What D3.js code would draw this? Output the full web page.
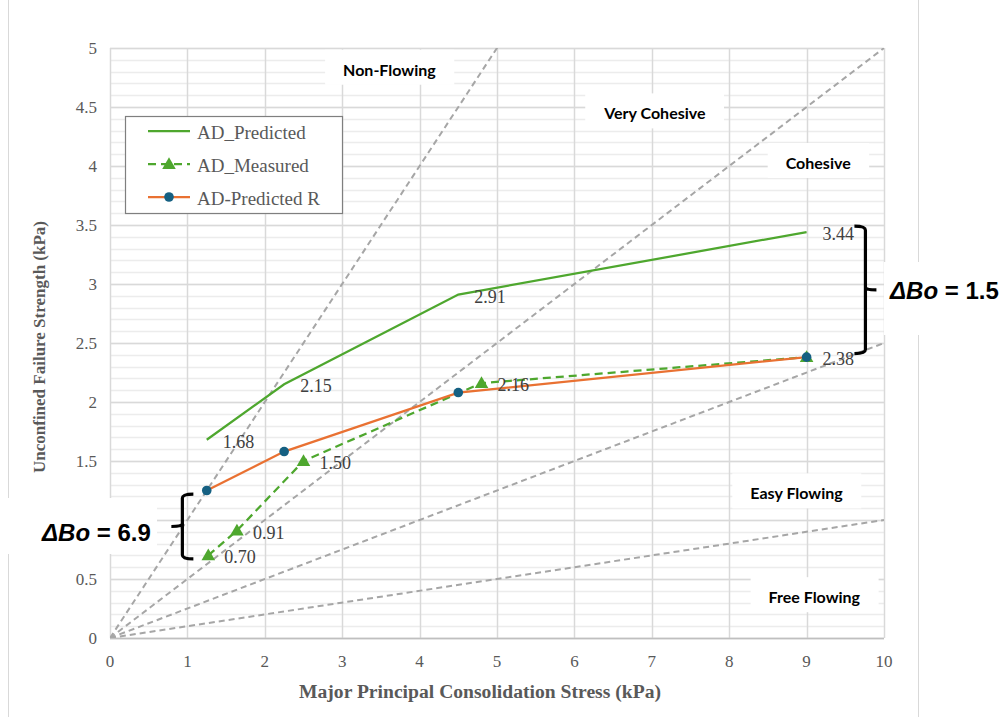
<!DOCTYPE html>
<html><head><meta charset="utf-8">
<script src="https://cdn.jsdelivr.net/npm/d3@7"></script>
<style>
body{margin:0;background:#fff;}
svg{display:block;}
</style></head><body>
<svg id="c" width="1005" height="717"></svg>
<script>
// ---- data ----
const xTicks = [0,1,2,3,4,5,6,7,8,9,10];
const yTicks = [0,0.5,1,1.5,2,2.5,3,3.5,4,4.5,5];
const yTickLabels = ["0","0.5","","1.5","2","2.5","3","3.5","4","4.5","5"]; // "1" is hidden behind the ΔBo note
const predX = [1.25, 2.25, 4.5, 9];
const predY = [1.68, 2.15, 2.91, 3.44];
const measX = [1.27, 1.64, 2.5, 4.8, 9];
const measY = [0.70, 0.91, 1.50, 2.16, 2.38];
const predRX = [1.25, 2.25, 4.5, 9];
const predRY = [1.25, 1.58, 2.08, 2.38];
const ffcSlopes = [1, 0.5, 0.25, 0.1];   // flow function boundaries ff=1,2,4,10
const regionNames = ["Non-Flowing","Very Cohesive","Cohesive","Easy Flowing","Free Flowing"];
const regionX = [3.61, 7.04, 9.15, 8.87, 9.1];
const regionY = [4.82, 4.45, 4.03, 1.23, 0.35];
const legendNames = ["AD_Predicted","AD_Measured","AD-Predicted R"];

const C_GREEN = "#4EA72E", C_ORANGE = "#E97132", C_BLUE = "#156082";
const SERIF = "'Liberation Serif', 'Times New Roman', serif";

const svg = d3.select("#c");
const x = d3.scaleLinear().domain([0,10]).range([110,884]);
const y = d3.scaleLinear().domain([0,5]).range([638,48]);

// chart border
svg.append("line").attr("x1",8.5).attr("x2",8.5).attr("y1",0).attr("y2",717).attr("stroke","#d9d9d9");
svg.append("line").attr("x1",918.5).attr("x2",918.5).attr("y1",0).attr("y2",717).attr("stroke","#d9d9d9");

// grid
const minor = d3.range(0,51).map(i=>i/10);
svg.append("g").selectAll("line").data(minor).join("line")
  .attr("x1",x(0)).attr("x2",x(10))
  .attr("y1",d=>Math.round(y(d))+0.5).attr("y2",d=>Math.round(y(d))+0.5)
  .attr("stroke","#ececec").attr("stroke-width",1.5);
svg.append("g").selectAll("line").data(yTicks).join("line")
  .attr("x1",x(0)).attr("x2",x(10))
  .attr("y1",d=>Math.round(y(d))+0.5).attr("y2",d=>Math.round(y(d))+0.5)
  .attr("stroke","#d9d9d9").attr("stroke-width",1.5);
svg.append("g").selectAll("line").data(xTicks).join("line")
  .attr("y1",y(0)).attr("y2",y(5))
  .attr("x1",d=>Math.round(x(d))+0.5).attr("x2",d=>Math.round(x(d))+0.5)
  .attr("stroke","#d9d9d9").attr("stroke-width",1.5);
svg.append("line").attr("x1",x(0)).attr("x2",x(10)).attr("y1",y(0)+0.5).attr("y2",y(0)+0.5)
  .attr("stroke","#bfbfbf").attr("stroke-width",1.5);

// region label boxes
const regions = regionNames.map((n,i)=>({n, x:regionX[i], y:regionY[i]}));
const rg = svg.append("g");
rg.selectAll("rect").data(regions).join("rect").attr("fill","#fff");
rg.selectAll("text").data(regions).join("text")
  .attr("x",d=>x(d.x)).attr("y",d=>y(d.y))
  .attr("text-anchor","middle").attr("dominant-baseline","central")
  .attr("font-family","Lato, 'Open Sans', sans-serif").attr("font-weight","bold")
  .attr("font-size",16).attr("fill","#000").text(d=>d.n);
rg.selectAll("text").each(function(d){ d.b=this.getBBox(); });
rg.selectAll("rect")
  .attr("x",d=>d.b.x-18).attr("y",d=>d.b.y-10)
  .attr("width",d=>d.b.width+36).attr("height",d=>d.b.height+16);

// flow function lines
svg.append("clipPath").attr("id","plot").append("rect")
  .attr("x",x(0)).attr("y",y(5)).attr("width",x(10)-x(0)).attr("height",y(0)-y(5));
svg.append("g").attr("clip-path","url(#plot)").selectAll("line").data(ffcSlopes).join("line")
  .attr("x1",x(0)).attr("y1",y(0))
  .attr("x2",x(10)).attr("y2",d=>y(10*d))
  .attr("stroke","#a6a6a6").attr("stroke-width",2).attr("stroke-dasharray","6,4");

// series
const line = d3.line().x(d=>x(d[0])).y(d=>y(d[1]));
const pred = predX.map((v,i)=>[v,predY[i]]);
const meas = measX.map((v,i)=>[v,measY[i]]);
const predR = predRX.map((v,i)=>[v,predRY[i]]);

svg.append("path").datum(pred).attr("d",line).attr("fill","none")
  .attr("stroke",C_GREEN).attr("stroke-width",2.25);
svg.append("path").datum(meas).attr("d",line).attr("fill","none")
  .attr("stroke",C_GREEN).attr("stroke-width",2.25).attr("stroke-dasharray","8,5");
svg.append("path").datum(predR).attr("d",line).attr("fill","none")
  .attr("stroke",C_ORANGE).attr("stroke-width",2.25);

const tri = d3.symbol().type(d3.symbolTriangle).size(80);
svg.append("g").selectAll("path").data(meas).join("path")
  .attr("d",tri).attr("transform",d=>`translate(${x(d[0])},${y(d[1])+1})`)
  .attr("fill",C_GREEN);
svg.append("g").selectAll("circle").data(predR).join("circle")
  .attr("cx",d=>x(d[0])).attr("cy",d=>y(d[1])).attr("r",4.8)
  .attr("fill",C_BLUE);

// data labels
function labels(data){
  svg.append("g").selectAll("text").data(data).join("text")
    .attr("x",d=>x(d[0])+16).attr("y",d=>y(d[1])+2)
    .attr("dominant-baseline","central")
    .attr("font-family",SERIF).attr("font-size",18).attr("fill","#404040")
    .text(d=>d[1].toFixed(2));
}
labels(pred);
labels(meas);

// axes labels
svg.append("g").selectAll("text").data(xTicks).join("text")
  .attr("x",d=>x(d)).attr("y",y(0)+29).attr("text-anchor","middle")
  .attr("font-family",SERIF).attr("font-size",17).attr("fill","#595959")
  .text(d=>d);
svg.append("g").selectAll("text").data(yTicks).join("text")
  .attr("x",97).attr("y",d=>y(d)).attr("text-anchor","end").attr("dominant-baseline","central")
  .attr("font-family",SERIF).attr("font-size",17).attr("fill","#595959")
  .text((d,i)=>yTickLabels[i]);

svg.append("text").attr("x",(x(0)+x(10))/2 - 17).attr("y",698).attr("text-anchor","middle")
  .attr("font-family",SERIF).attr("font-size",18).attr("font-weight","bold")
  .attr("textLength",362).attr("lengthAdjust","spacingAndGlyphs")
  .attr("fill","#595959").text("Major Principal Consolidation Stress (kPa)");
svg.append("text").attr("transform",`translate(45,347) rotate(-90)`)
  .attr("text-anchor","middle")
  .attr("font-family",SERIF).attr("font-size",17).attr("font-weight","bold")
  .attr("fill","#595959").text("Unconfined Failure Strength (kPa)");

// legend
const lg = svg.append("g").attr("transform","translate(125,116)");
lg.append("rect").attr("x",0.5).attr("y",0.5).attr("width",217).attr("height",97)
  .attr("fill","#fff").attr("stroke","#7f7f7f").attr("stroke-width",1.2);
legendNames.forEach((n,i)=>{
  const yy = 15 + i*33;
  const g = lg.append("g").attr("transform",`translate(0,${yy})`);
  const col = i===2 ? C_ORANGE : C_GREEN;
  g.append("line").attr("x1",23).attr("x2",65).attr("y1",0).attr("y2",0)
    .attr("stroke",col).attr("stroke-width",2.25)
    .attr("stroke-dasharray", i===1 ? "8,5" : null);
  if(i===1) g.append("path").attr("d",tri).attr("transform","translate(44,1)").attr("fill",C_GREEN);
  if(i===2) g.append("circle").attr("cx",44).attr("cy",0).attr("r",4.8).attr("fill",C_BLUE);
  g.append("text").attr("x",72).attr("y",1).attr("dominant-baseline","central")
    .attr("font-family",SERIF).attr("font-size",19).attr("fill","#595959").text(n);
});

// braces and delta Bo annotations
function brace(xv, y1, y2, dir){
  const p = d3.path();
  const xs = x(xv), top = y(y1), bot = y(y2), mid=(top+bot)/2;
  const hook = -dir*11, nub = dir*11;
  p.moveTo(xs+hook, top);
  p.quadraticCurveTo(xs, top, xs, top+4);
  p.lineTo(xs, mid-3);
  p.quadraticCurveTo(xs, mid, xs+nub, mid);
  p.moveTo(xs, mid-3);
  p.quadraticCurveTo(xs, mid, xs, mid+3);
  p.lineTo(xs, bot-4);
  p.quadraticCurveTo(xs, bot, xs+hook, bot);
  svg.append("path").attr("d",p.toString()).attr("fill","none")
    .attr("stroke","#000").attr("stroke-width",3.2);
}
brace(9.76, 3.49, 2.41, 1);
brace(0.935, 1.22, 0.67, -1);

function dbo(cx, cy, val, bx, bw, by, bh){
  svg.append("rect").attr("x",bx).attr("y",by).attr("width",bw).attr("height",bh).attr("fill","#fff");
  const t = svg.append("text").attr("x",cx).attr("y",cy).attr("dominant-baseline","central")
    .attr("font-family","'Liberation Sans', Arial, sans-serif").attr("font-weight","bold")
    .attr("font-size",24).attr("fill","#000");
  t.append("tspan").attr("font-style","italic").text("ΔBo");
  t.append("tspan").text(" = " + val);
}
dbo(890, 290, "1.5", 884, 121, 262, 73);
dbo(42, 532, "6.9", 0, 157, 498, 56);
</script>
</body></html>
